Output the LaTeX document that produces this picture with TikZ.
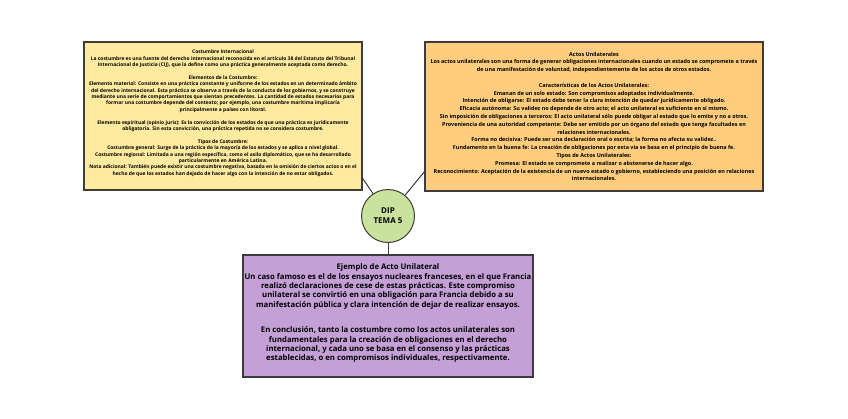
\documentclass[tikz,border=0pt]{standalone}
\usepackage{fontspec}
\setmainfont{Open Sans}
\definecolor{bordc}{RGB}{60,60,60}
\definecolor{yelfill}{RGB}{255,234,160}
\definecolor{orafill}{RGB}{255,205,125}
\definecolor{grnfill}{RGB}{201,227,158}
\definecolor{purfill}{RGB}{196,160,214}
\begin{document}
\begin{tikzpicture}[x=1pt,y=-1pt,
  box/.style={draw=bordc, line width=1.1pt, rectangle, inner sep=0pt},
  conn/.style={draw=bordc, line width=1pt},
  txt/.style={align=center, inner sep=0pt, text=black},
  ltxt/.style={txt, font=\bfseries\fontsize{4.95}{6.4}\selectfont},
  rtxt/.style={txt, font=\bfseries\fontsize{5.45}{7.8}\selectfont},
  btxt/.style={txt, font=\bfseries\fontsize{7.75}{9.3}\selectfont},
  ctxt/.style={txt, font=\bfseries\fontsize{8}{10}\selectfont}]
\useasboundingbox (0,0) rectangle (848,418);
\node[box, fill=yelfill, minimum width=278pt, minimum height=148pt] (L) at (223,116) {};
\node[box, fill=orafill, minimum width=338pt, minimum height=149pt] (R) at (594,116.5) {};
\node[box, fill=purfill, minimum width=290pt, minimum height=122pt] (B) at (388,316) {};
\node[circle, draw=bordc, line width=1pt, fill=grnfill, minimum size=53pt, inner sep=0pt] (C) at (388,216) {};
\draw[conn] (L.-24) -- (C);
\draw[conn] (R.198) -- (C);
\draw[conn] (C) -- (B);
\node[ctxt] (Ct) at (C) {DIP\\TEMA 5};
\node[ltxt] (Lt) at (223,113.2) {Costumbre Internacional\\
La costumbre es una fuente del derecho internacional reconocida en el artículo 38 del Estatuto del Tribunal\\
Internacional de Justicia (CIJ), que la define como una práctica generalmente aceptada como derecho.\\[6.4pt]
Elementos de la Costumbre:\\
Elemento material: Consiste en una práctica constante y uniforme de los estados en un determinado ámbito\\
del derecho internacional. Esta práctica se observa a través de la conducta de los gobiernos, y se construye\\
mediante una serie de comportamientos que sientan precedentes. La cantidad de estados necesarios para\\
formar una costumbre depende del contexto; por ejemplo, una costumbre marítima implicaría\\
principalmente a países con litoral.\\[6.4pt]
Elemento espiritual (opinio juris): Es la convicción de los estados de que una práctica es jurídicamente\\
obligatoria. Sin esta convicción, una práctica repetida no se considera costumbre.\\[6.4pt]
Tipos de Costumbre:\\
Costumbre general: Surge de la práctica de la mayoría de los estados y se aplica a nivel global.\\
Costumbre regional: Limitada a una región específica, como el asilo diplomático, que se ha desarrollado\\
particularmente en América Latina.\\
Nota adicional: También puede existir una costumbre negativa, basada en la omisión de ciertos actos o en el\\
hecho de que los estados han dejado de hacer algo con la intención de no estar obligados.};
\node[rtxt] (Rt) at (594,116.4) {Actos Unilaterales\\
Los actos unilaterales son una forma de generar obligaciones internacionales cuando un estado se compromete a través\\
de una manifestación de voluntad, independientemente de los actos de otros estados.\\[7.8pt]
Características de los Actos Unilaterales:\\
Emanan de un solo estado: Son compromisos adoptados individualmente.\\
Intención de obligarse: El estado debe tener la clara intención de quedar jurídicamente obligado.\\
Eficacia autónoma: Su validez no depende de otro acto; el acto unilateral es suficiente en sí mismo.\\
Sin imposición de obligaciones a terceros: El acto unilateral sólo puede obligar al estado que lo emite y no a otros.\\
Proveniencia de una autoridad competente: Debe ser emitido por un órgano del estado que tenga facultades en\\
relaciones internacionales.\\
Forma no decisiva: Puede ser una declaración oral o escrita; la forma no afecta su validez..\\
Fundamento en la buena fe: La creación de obligaciones por esta vía se basa en el principio de buena fe.\\
Tipos de Actos Unilaterales:\\
Promesa: El estado se compromete a realizar o abstenerse de hacer algo.\\
Reconocimiento: Aceptación de la existencia de un nuevo estado o gobierno, estableciendo una posición en relaciones\\
internacionales.};
\node[btxt] (Bt) at (388,313.2) {Ejemplo de Acto Unilateral\\
Un caso famoso es el de los ensayos nucleares franceses, en el que Francia\\
realizó declaraciones de cese de estas prácticas. Este compromiso\\
unilateral se convirtió en una obligación para Francia debido a su\\
manifestación pública y clara intención de dejar de realizar ensayos.\\[16.4pt]
En conclusión, tanto la costumbre como los actos unilaterales son\\
fundamentales para la creación de obligaciones en el derecho\\
internacional, y cada uno se basa en el consenso y las prácticas\\
establecidas, o en compromisos individuales, respectivamente.};
\end{tikzpicture}
\end{document}
